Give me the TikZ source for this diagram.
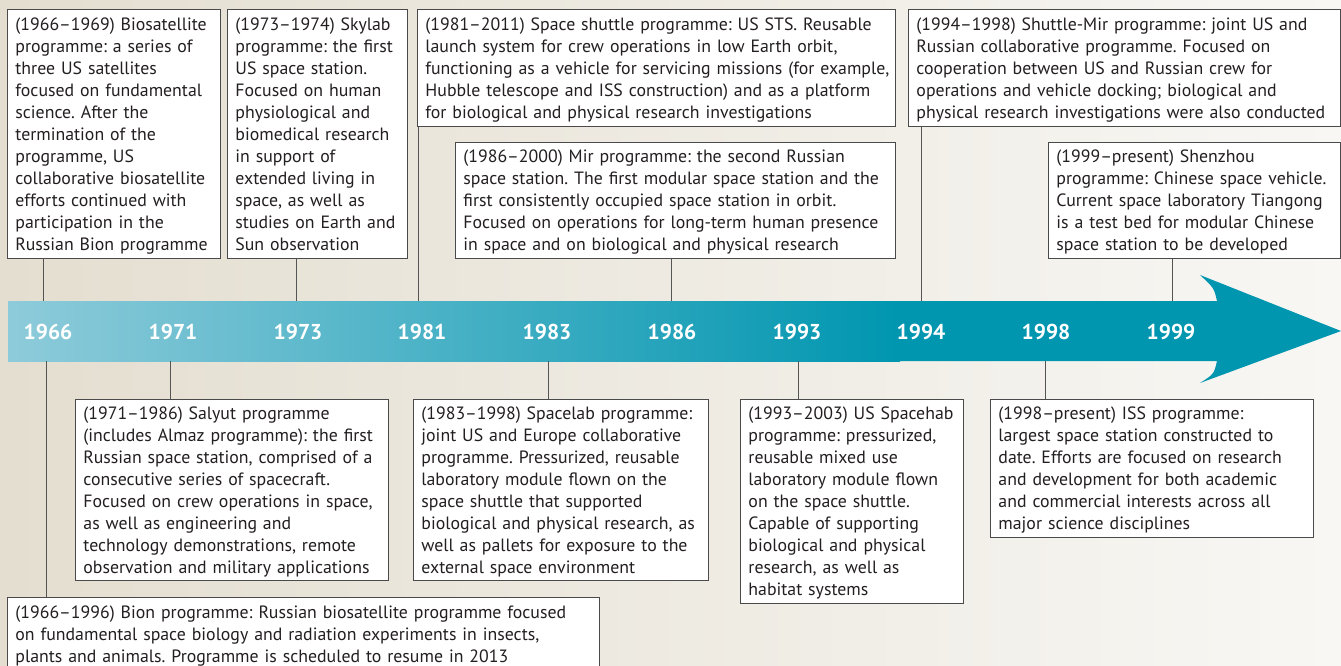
\documentclass[tikz,border=0pt]{standalone}
\usepackage{fontspec}
\setmainfont{PT Sans}
\frenchspacing
\definecolor{bgL}{HTML}{E4DED0}
\definecolor{bgR}{HTML}{F8F7F4}
\definecolor{arrL}{HTML}{8ECBDA}
\definecolor{arrD}{HTML}{0096B0}
\definecolor{boxline}{HTML}{4A4A4A}
\definecolor{connline}{HTML}{555555}
\definecolor{txt}{HTML}{231F20}
\newcommand{\lns}[1]{\frenchspacing\begin{tabular}{@{}l@{}}\rule{0pt}{19.4pt}#1\end{tabular}}
\begin{document}
\begin{tikzpicture}[x=1pt,y=-1pt,
  infobox/.style={draw=boxline, fill=white, line width=0.9pt, anchor=north west,
    inner xsep=8pt, inner ysep=0pt, align=left, text=txt,
    font=\fontsize{17.8}{22}\selectfont},
  conn/.style={draw=connline, line width=1pt},
  yearlbl/.style={text=white, font=\fontsize{21.5}{24}\selectfont\bfseries, inner sep=0pt}]
\useasboundingbox (0,0) rectangle (1341,665);
\clip (0,0) rectangle (1341,665);
\shade[left color=bgL, right color=bgR] (0,0) rectangle (1341,665);
% arrow
\fill[arrD] (8,301) -- (1217,301) .. controls (1214,288) .. (1200,275) -- (1341,331)
  -- (1200,383) .. controls (1214,374) .. (1217,361) -- (8,361) -- cycle;
\shade[left color=arrL, right color=arrD] (8,301) rectangle (900,361);
% year labels
\node[yearlbl] (y1966) at (48,332) {1966};
\node[yearlbl] (y1971) at (173,332) {1971};
\node[yearlbl] (y1973) at (298,332) {1973};
\node[yearlbl] (y1981) at (422,332) {1981};
\node[yearlbl] (y1983) at (547,332) {1983};
\node[yearlbl] (y1986) at (672,332) {1986};
\node[yearlbl] (y1993) at (797,332) {1993};
\node[yearlbl] (y1994) at (921,332) {1994};
\node[yearlbl] (y1998) at (1046,332) {1998};
\node[yearlbl] (y1999) at (1171,332) {1999};
% coordinates on arrow edges
\coordinate (t1966) at (43,301);
\coordinate (t1973) at (296,301);
\coordinate (t1981) at (418,301);
\coordinate (t1986) at (671,301);
\coordinate (t1994) at (921,301);
\coordinate (t1999) at (1172,301);
\coordinate (u1966) at (46,361);
\coordinate (u1971) at (170,361);
\coordinate (u1983) at (548,361);
\coordinate (u1993) at (798,361);
\coordinate (u1998) at (1045,361);
% boxes
\node[infobox, minimum height=249pt, text width=197pt] (b1) at (7,9) {\lns{(1966–1969) Biosatellite\\programme: a series of\\three US satellites\\focused on fundamental\\science. After the\\termination of the\\programme, US\\collaborative biosatellite\\efforts continued with\\participation in the\\Russian Bion programme}};
\node[infobox, minimum height=249pt, text width=164pt] (b2) at (227,9) {\lns{(1973–1974) Skylab\\programme: the first\\US space station.\\Focused on human\\physiological and\\biomedical research\\in support of\\extended living in\\space, as well as\\studies on Earth and\\Sun observation}};
\node[infobox, minimum height=117pt, text width=462pt] (b3) at (417,9) {\lns{(1981–2011) Space shuttle programme: US STS. Reusable\\launch system for crew operations in low Earth orbit,\\functioning as a vehicle for servicing missions (for example,\\Hubble telescope and ISS construction) and as a platform\\for biological and physical research investigations}};
\node[infobox, minimum height=116pt, text width=424pt] (b4) at (455,142) {\lns{(1986–2000) Mir programme: the second Russian\\space station. The first modular space station and the\\first consistently occupied space station in orbit.\\Focused on operations for long-term human presence\\in space and on biological and physical research}};
\node[infobox, minimum height=117pt, text width=416pt] (b5) at (908,9) {\lns{(1994–1998) Shuttle-Mir programme: joint US and\\Russian collaborative programme. Focused on\\cooperation between US and Russian crew for\\operations and vehicle docking; biological and\\physical research investigations were also conducted}};
\node[infobox, minimum height=116pt, text width=276pt] (b6) at (1048,142) {\lns{(1999–present) Shenzhou\\programme: Chinese space vehicle.\\Current space laboratory Tiangong\\is a test bed for modular Chinese\\space station to be developed}};
\node[infobox, minimum height=181pt, text width=297pt] (b7) at (75,399) {\lns{(1971–1986) Salyut programme\\(includes Almaz programme): the first\\Russian space station, comprised of a\\consecutive series of spacecraft.\\Focused on crew operations in space,\\as well as engineering and\\technology demonstrations, remote\\observation and military applications}};
\node[infobox, minimum height=181pt, text width=279pt] (b8) at (413,399) {\lns{(1983–1998) Spacelab programme:\\joint US and Europe collaborative\\programme. Pressurized, reusable\\laboratory module flown on the\\space shuttle that supported\\biological and physical research, as\\well as pallets for exposure to the\\external space environment}};
\node[infobox, minimum height=204pt, text width=207pt] (b9) at (740,399) {\lns{(1993–2003) US Spacehab\\programme: pressurized,\\reusable mixed use\\laboratory module flown\\on the space shuttle.\\Capable of supporting\\biological and physical\\research, as well as\\habitat systems}};
\node[infobox, minimum height=138pt, text width=307pt] (b10) at (990,399) {\lns{(1998–present) ISS programme:\\largest space station constructed to\\date. Efforts are focused on research\\and development for both academic\\and commercial interests across all\\major science disciplines}};
\node[infobox, minimum height=73pt, text width=576pt] (b11) at (7,597) {\lns{(1966–1996) Bion programme: Russian biosatellite programme focused\\on fundamental space biology and radiation experiments in insects,\\plants and animals. Programme is scheduled to resume in 2013}};
% connectors
\draw[conn] (b1.south -| t1966) -- (t1966);
\draw[conn] (b2.south -| t1973) -- (t1973);
\draw[conn] (b3.south -| t1981) -- (t1981);
\draw[conn] (b4.south -| t1986) -- (t1986);
\draw[conn] (b5.south -| t1994) -- (t1994);
\draw[conn] (b6.south -| t1999) -- (t1999);
\draw[conn] (u1966) -- (b11.north -| u1966);
\draw[conn] (u1971) -- (b7.north -| u1971);
\draw[conn] (u1983) -- (b8.north -| u1983);
\draw[conn] (u1993) -- (b9.north -| u1993);
\draw[conn] (u1998) -- (b10.north -| u1998);
\end{tikzpicture}
\end{document}
